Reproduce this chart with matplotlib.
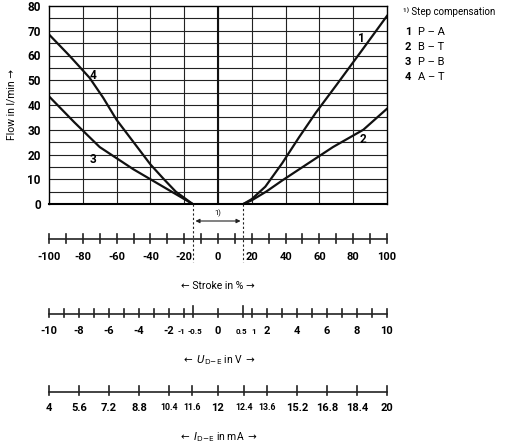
import matplotlib.pyplot as plt
import numpy as np

plt.rcParams['font.family'] = ['Roboto', 'DejaVu Sans']

# curves: stroke (%) vs flow (l/min)
s1 = [15, 20, 28, 38, 48, 58, 70, 84, 100]
f1 = [0, 2, 7, 16.5, 27, 37, 48, 61, 76]
s2 = [15, 20, 28.5, 38, 48, 58, 68, 86, 100]
f2 = [0, 1.5, 5, 9.5, 14, 18.5, 23, 30, 38.5]
s3 = [-15, -20, -30, -40, -50, -60, -70, -85, -100]
f3 = [0, 2, 6, 10, 14, 18.5, 23, 33, 43.5]
s4 = [-15, -20, -25, -32, -40, -50, -60, -68, -76, -88, -100]
f4 = [0, 2.5, 5, 10, 16, 25, 34, 43, 51, 60, 68.5]

stroke_ticks = np.arange(-100, 101, 10)
stroke_labels = np.arange(-100, 101, 20)
volt_ticks = [-10, -9, -8, -7, -6, -5, -4, -3, -2, -1, -0.5, 0, 0.5, 1, 2, 3, 4, 5, 6, 7, 8, 9, 10]
volt_labels = [-10, -8, -6, -4, -2, -1, -0.5, 0, 0.5, 1, 2, 4, 6, 8, 10]
amp_labels = [4, 5.6, 7.2, 8.8, 10.4, 11.6, 12, 12.4, 13.6, 15.2, 16.8, 18.4, 20]
legend_num = ['1', '2', '3', '4']
legend_txt = ['P – A', 'B – T', 'P – B', 'A – T']


def v2s(v):
    a = abs(v)
    if a == 0:
        return 0
    if a <= 0.5:
        return np.sign(v) * 30 * a
    return np.sign(v) * (20 + (a - 1) * 80 / 9)


def fmt(v):
    return ('%g' % v)


W, H = 506, 446
fig = plt.figure(figsize=(W / 100, H / 100), dpi=100)
x0, x1, yt, yb = 49, 387, 6, 204
ax = fig.add_axes([x0 / W, 1 - yb / H, (x1 - x0) / W, (yb - yt) / H])
ax.set_xlim(-100, 100)
ax.set_ylim(0, 80)
for x in range(-80, 100, 20):
    ax.axvline(x, color='#222', lw=0.8)
for y in range(5, 80, 5):
    ax.axhline(y, color='#222', lw=0.8)
ax.axvline(0, color='#111', lw=1.5)
for sp in ax.spines.values():
    sp.set_linewidth(1.0)
ax.spines['bottom'].set_linewidth(1.5)
ax.set_xticks([])
ax.set_yticks(range(0, 81, 10))
ax.tick_params(axis='y', length=0, pad=6)
for t in ax.get_yticklabels():
    t.set_fontweight('bold'); t.set_fontsize(8.5)
ax.set_ylabel('Flow in l/min →', fontsize=7.5, labelpad=8)
for s, f in [(s1, f1), (s2, f2), (s3, f3), (s4, f4)]:
    ax.plot(s, f, color='#111', lw=1.6, solid_joinstyle='round')
kw = dict(fontsize=8.5, fontweight='bold', ha='center', va='center')
ax.text(85, 67, '1', **kw)
ax.text(86, 26, '2', **kw)
ax.text(-74, 18, '3', **kw)
ax.text(-74, 52, '4', **kw)

# overlay for scales: x in stroke, y in pixels
ov = fig.add_axes([x0 / W, 0, (x1 - x0) / W, 1])
ov.set_xlim(-100, 100)
ov.set_ylim(H, 0)
ov.axis('off')
lk = dict(color='#222', lw=1.2, clip_on=False)
tk = dict(fontsize=8, fontweight='bold', ha='center', va='center')

for s in (-15, 15):
    ov.plot([s, s], [204, 262], color='#222', lw=0.8, ls=(0, (2, 2)), clip_on=False)
ov.annotate('', xy=(-15, 221), xytext=(15, 221),
            arrowprops=dict(arrowstyle='<|-|>', color='#222', lw=0.8, mutation_scale=6))
ov.text(0, 213, '1)', fontsize=5.5, ha='center', va='center')

# stroke scale
ov.plot([-100, 100], [239, 239], **lk)
for s in stroke_ticks:
    ov.plot([s, s], [234, 243], **lk)
for s in stroke_labels:
    ov.text(s, 257, fmt(s), **tk)
ov.text(0, 286, '← Stroke in % →', fontsize=7.5, ha='center', va='center')

# voltage scale
ov.plot([-100, 100], [314, 314], **lk)
for v in volt_ticks:
    h = 8 if abs(v) == 0.5 else 5
    ov.plot([v2s(v)] * 2, [314 - h, 314 + 3], **lk)
nudge = {-1: -1.5, -0.5: 1.5, 0.5: -1, 1: 1}
for v in volt_labels:
    small = abs(v) <= 1 and v != 0
    ov.text(v2s(v) + nudge.get(v, 0), 331, fmt(v), fontsize=5.8 if small else 8,
            fontweight='bold', ha='center', va='center')
ov.text(0, 360, r'$\leftarrow$ $\mathbf{\mathit{U}}_{\mathrm{D\!-\!E}}$ in V $\rightarrow$',
        fontsize=7.5, ha='center', va='center')

# current scale
ov.plot([-100, 100], [392, 392], **lk)
for a in amp_labels:
    v = (a - 12) / 0.8
    h = 9 if abs(v) == 0.5 else 6
    ov.plot([v2s(v)] * 2, [392 - h, 392 + 3], **lk)
    ov.text(v2s(v), 408, fmt(a), fontsize=6.3 if a in (10.4, 11.6, 12.4, 13.6) else 8,
            fontweight='bold', ha='center', va='center')
ov.text(0, 437, r'$\leftarrow$ $\mathbf{\mathit{I}}_{\mathrm{D\!-\!E}}$ in mA $\rightarrow$',
        fontsize=7.5, ha='center', va='center')

# legend text
fig.text(403 / W, 1 - 12 / H, '¹⁾ Step compensation', fontsize=7, va='center')
for i, (n, t) in enumerate(zip(legend_num, legend_txt)):
    y = 1 - (32 + 15 * i) / H
    fig.text(405 / W, y, n, fontsize=8, fontweight='bold', va='center')
    fig.text(418 / W, y, t, fontsize=8, va='center')

fig.savefig('out.png', dpi=100, facecolor='white')
